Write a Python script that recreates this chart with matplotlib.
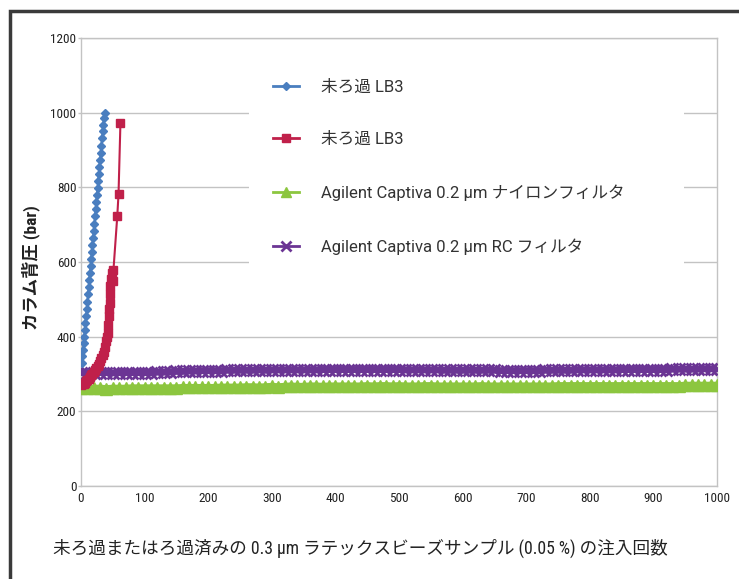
import numpy as np
import matplotlib
matplotlib.use("Agg")
import matplotlib.pyplot as plt
from matplotlib.patches import Rectangle

# ---- data -------------------------------------------------------------
# Unfiltered LB3 (first run): injections vs. backpressure (bar)
blue_x = list(range(1, 38))
blue_y = [330, 348, 365, 382, 400, 418, 437, 456, 475, 494,
          513, 532, 551, 570, 589, 608, 627, 646, 665, 684,
          703, 722, 741, 760, 779, 798, 817, 836, 855, 874,
          893, 912, 931, 950, 968, 985, 1000]

# Unfiltered LB3 (second run)
red_x = [0, 2, 4, 6, 8, 10, 12, 14, 16, 18, 20, 22, 24, 26, 28, 30,
         32, 34, 36, 38, 40, 41, 42, 43, 44, 44, 45, 45, 46, 47, 48,
         50, 51, 57, 59, 62]
red_y = [270, 272, 274, 277, 280, 283, 287, 291, 296, 300, 305, 310,
         316, 322, 328, 335, 342, 350, 360, 372, 388, 398, 410, 430,
         455, 475, 490, 515, 535, 555, 570, 550, 578, 722, 782, 972]

# Agilent Captiva 0.2 um nylon / RC filters, every 10th injection
filt_x = np.arange(0, 1001, 10)
green_y = [263, 262, 262, 262, 261, 262, 262, 262, 263, 263,
           263, 263, 263, 263, 263, 263, 264, 264, 264, 264,
           264, 264, 265, 265, 265, 265, 266, 266, 265, 266,
           267, 266, 267, 268, 267, 267, 268, 268, 267, 268,
           268, 268, 268, 268, 268, 269, 268, 269, 269, 268,
           269, 268, 268, 268, 269, 269, 268, 268, 268, 268,
           268, 268, 268, 269, 268, 268, 268, 268, 268, 268,
           268, 268, 268, 268, 268, 269, 269, 269, 269, 269,
           269, 269, 269, 269, 269, 269, 269, 269, 269, 269,
           269, 269, 269, 269, 269, 270, 270, 270, 270, 270,
           270]
purple_y = [304, 304, 303, 304, 304, 303, 304, 304, 304, 304,
            304, 304, 305, 305, 306, 307, 307, 308, 308, 309,
            309, 309, 309, 310, 310, 310, 310, 310, 311, 310,
            311, 311, 311, 311, 311, 311, 311, 311, 312, 312,
            312, 312, 312, 312, 312, 312, 312, 312, 312, 312,
            312, 311, 311, 311, 311, 311, 311, 310, 310, 310,
            310, 310, 310, 310, 310, 310, 309, 309, 309, 309,
            309, 309, 309, 310, 310, 310, 310, 310, 311, 311,
            311, 311, 311, 311, 311, 312, 312, 312, 312, 312,
            312, 312, 312, 313, 313, 313, 313, 313, 314, 314,
            314]

labels = ["未ろ過 LB3", "未ろ過 LB3",
          "Agilent Captiva 0.2 µm ナイロンフィルタ",
          "Agilent Captiva 0.2 µm RC フィルタ"]
xlabel = "未ろ過またはろ過済みの 0.3 µm ラテックスビーズサンプル (0.05 %) の注入回数"
ylabel = "カラム背圧 (bar)"
xticks = list(range(0, 1001, 100))
yticks = list(range(0, 1201, 200))

# ---- style ------------------------------------------------------------
COND = ["Roboto Condensed", "Noto Sans CJK JP", "DejaVu Sans"]
LEG = ["Roboto", "Noto Sans CJK JP", "DejaVu Sans"]
plt.rcParams["font.family"] = COND

C_BLUE = "#4a7ebf"
C_RED = "#c0204a"
C_GREEN = "#8cc63f"
C_PURPLE = "#6b3594"
GRID = "#c3c3c3"

fig = plt.figure(figsize=(7.39, 5.79), dpi=100)
ax = fig.add_axes([81 / 739, 1 - 486 / 579, 636 / 739, 448 / 579])

ax.plot(filt_x, green_y, color=C_GREEN, lw=5, marker="^", ms=8,
        mec=C_GREEN, mfc=C_GREEN, label=labels[2], zorder=3)
ax.plot(filt_x, purple_y, color=C_PURPLE, lw=5, marker="x", ms=8,
        mew=2, mec=C_PURPLE, label=labels[3], zorder=4)
ax.plot(red_x, red_y, color=C_RED, lw=1.5, marker="s", ms=5.5,
        mec=C_RED, mfc=C_RED, label=labels[1], zorder=5)
ax.plot(blue_x, blue_y, color=C_BLUE, lw=1.5, marker="D", ms=3.8,
        mec=C_BLUE, mfc=C_BLUE, label=labels[0], zorder=6)

ax.set_xlim(0, 1000)
ax.set_ylim(0, 1200)
ax.set_xticks(xticks)
ax.set_yticks(yticks)
ax.tick_params(axis="y", length=2, width=1, color=GRID, pad=1.3,
               labelsize=9.5, labelcolor="#222222")
ax.tick_params(axis="x", length=0, pad=4.5, labelsize=9.5,
               labelcolor="#222222")
ax.yaxis.grid(True, color=GRID, lw=1)
ax.set_axisbelow(True)
for sp in ax.spines.values():
    sp.set_color(GRID)
    sp.set_linewidth(1)

# white panel behind the legend
ax.add_patch(Rectangle((0.264, 0.46), 0.684, 0.49, transform=ax.transAxes,
                       facecolor="white", edgecolor="none", zorder=1.5))

handles, labs = ax.get_legend_handles_labels()
order = [3, 2, 0, 1]
leg = ax.legend([handles[i] for i in order], [labs[i] for i in order],
                loc="upper left", bbox_to_anchor=(0.2895, 0.9255),
                frameon=False, borderpad=0, numpoints=1,
                handlelength=1.56, handletextpad=1.32, labelspacing=2.23,
                prop={"family": LEG, "size": 12})
for t in leg.get_texts():
    t.set_color("#333333")
for h, ms in zip(leg.legend_handles, [4.5, 6, 7, 7]):
    h.set_linewidth(2)
    h.set_markersize(ms)

fig.text(53 / 739, 1 - 548 / 579, xlabel, ha="left", va="center",
         fontsize=12.7, color="#222222", family=COND)
fig.text(31 / 739, 1 - 268 / 579, ylabel, ha="center", va="center",
         rotation=90, fontsize=12.5, fontweight="bold", color="#222222",
         family=COND)

# outer frame (top and left edges visible)
fig.patches.append(Rectangle((10 / 739, -0.1), 1.2, 1 - 11 / 579 + 0.1,
                             transform=fig.transFigure, fill=False,
                             edgecolor="#3a3a3a", lw=2.5, clip_on=False))

fig.savefig("out.png", dpi=100)
